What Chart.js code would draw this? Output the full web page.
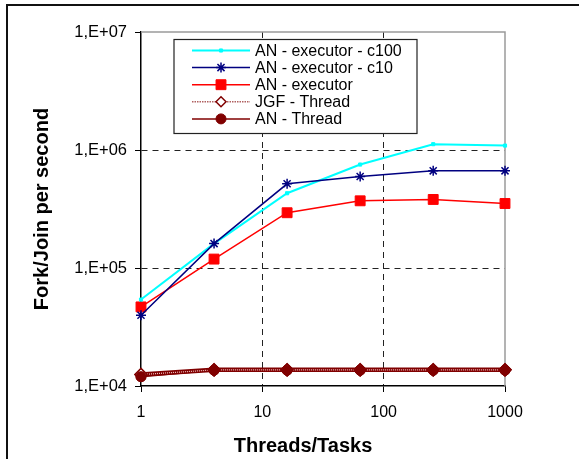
<!DOCTYPE html>
<html>
<head>
<meta charset="utf-8">
<script src="https://cdn.jsdelivr.net/npm/chart.js@4.4.0/dist/chart.umd.min.js"></script>
<style>
html, body { margin: 0; padding: 0; background: #fff; }
#wrap { position: relative; width: 579px; height: 459px; }
</style>
</head>
<body>
<div id="wrap"><canvas id="chart" width="579" height="459"></canvas></div>
<script>
const threads = [1, 4, 16, 64, 256, 1000];
const executorC100 = [54000, 161000, 430000, 753000, 1120000, 1090000];
const executorC10 = [39800, 161000, 517000, 596000, 666000, 666000];
const executorPlain = [46800, 119000, 294000, 371000, 381000, 352000];
const jgfThread = [12500, 13700, 13700, 13700, 13700, 13700];
const anThread = [12000, 13600, 13600, 13600, 13600, 13600];
const xTicks = [1, 10, 100, 1000];
const yTicks = [1e4, 1e5, 1e6, 1e7];

const FONT = '"Liberation Sans", Arial, sans-serif';
Chart.defaults.font.family = FONT;
Chart.defaults.color = '#000';

function points(values) {
    return threads.map((t, i) => ({ x: t, y: values[i] }));
}

function fmtY(v) {
    let e = Math.round(Math.log10(v));
    return '1,E+' + String(e).padStart(2, '0');
}

// only the inner decades get a dashed grid line
function innerGrid(edges) {
    return c => (c.tick && edges.includes(c.tick.value)) ? 'rgba(0,0,0,0)' : '#222';
}

// frame around the page + grey top/right edge of the plot area
const framePlugin = {
    id: 'frame',
    beforeDatasetsDraw(chart) {
        const ctx = chart.ctx;
        const a = chart.chartArea;
        ctx.save();
        ctx.strokeStyle = '#9a9a9a';
        ctx.lineWidth = 1.5;
        ctx.beginPath();
        ctx.moveTo(a.left, a.top);
        ctx.lineTo(a.right, a.top);
        ctx.lineTo(a.right, a.bottom);
        ctx.stroke();
        ctx.restore();
    },
    afterDraw(chart) {
        const ctx = chart.ctx;
        ctx.save();
        ctx.strokeStyle = '#111';
        ctx.lineWidth = 2;
        ctx.beginPath();
        ctx.moveTo(7, chart.height);
        ctx.lineTo(7, 5);
        ctx.lineTo(chart.width, 5);
        ctx.stroke();
        // x axis title, a bit left of the plot centre like the original
        ctx.font = 'bold 20px ' + FONT;
        ctx.textAlign = 'center';
        ctx.textBaseline = 'middle';
        ctx.fillStyle = '#000';
        ctx.fillText('Threads/Tasks', 303, 446);
        ctx.restore();
    }
};

// dotted light centre on the JGF line, then markers on top (Excel style)
const threadPlugin = {
    id: 'threadLines',
    afterDatasetsDraw(chart) {
        const ctx = chart.ctx;
        const jgf = chart.getDatasetMeta(3);
        const an = chart.getDatasetMeta(4);
        ctx.save();
        ctx.strokeStyle = 'rgba(255,215,215,0.9)';
        ctx.lineWidth = 1.2;
        ctx.setLineDash([1, 1]);
        ctx.beginPath();
        jgf.data.forEach((p, i) => i ? ctx.lineTo(p.x, p.y) : ctx.moveTo(p.x, p.y));
        ctx.stroke();
        ctx.restore();
        jgf.data.forEach(p => p.draw(ctx));
        an.data.forEach(p => p.draw(ctx));
    }
};

const legendPlugin = {
    id: 'boxLegend',
    afterDatasetsDraw(chart) {
        const ctx = chart.ctx;
        const a = chart.chartArea;
        const left = a.left + 33, top = a.top + 7.5, w = 243, h = 94;
        ctx.save();
        ctx.fillStyle = '#fff';
        ctx.fillRect(left, top, w, h);
        ctx.strokeStyle = '#222';
        ctx.lineWidth = 1.2;
        ctx.strokeRect(left, top, w, h);
        chart.data.datasets.forEach((ds, i) => {
            const y = top + 11 + i * 17.1;
            ctx.save();
            ctx.strokeStyle = ds.legendLineColor || ds.borderColor;
            ctx.lineWidth = ds.legendLineWidth || ds.borderWidth;
            ctx.setLineDash(ds.legendDash || []);
            ctx.beginPath();
            ctx.moveTo(left + 18, y);
            ctx.lineTo(left + 76, y);
            ctx.stroke();
            ctx.restore();
            ctx.fillStyle = ds.pointBackgroundColor;
            ctx.strokeStyle = ds.pointBorderColor;
            ctx.lineWidth = ds.pointBorderWidth;
            Chart.helpers.drawPoint(ctx, {
                pointStyle: ds.pointStyle,
                radius: ds.legendPointRadius || ds.pointRadius,
                borderWidth: ds.pointBorderWidth,
                rotation: 0
            }, left + 47, y);
            ctx.fillStyle = '#000';
            ctx.font = '16px ' + FONT;
            ctx.textAlign = 'left';
            ctx.textBaseline = 'middle';
            ctx.fillText(ds.label, left + 81, y + 1);
        });
        ctx.restore();
    }
};

new Chart(document.getElementById('chart'), {
    type: 'line',
    data: {
        datasets: [
            {
                label: 'AN - executor - c100',
                data: points(executorC100),
                borderColor: '#00FFFF',
                borderWidth: 2,
                pointStyle: 'rect',
                pointRadius: 2.2,
                pointBackgroundColor: '#00FFFF',
                pointBorderColor: '#00FFFF',
                pointBorderWidth: 1,
                order: 2
            },
            {
                label: 'AN - executor - c10',
                data: points(executorC10),
                borderColor: '#000080',
                borderWidth: 1.5,
                pointStyle: 'star',
                pointRadius: 5,
                pointBackgroundColor: '#000080',
                pointBorderColor: '#000080',
                pointBorderWidth: 1.5,
                order: 1
            },
            {
                label: 'AN - executor',
                data: points(executorPlain),
                borderColor: '#FF0000',
                borderWidth: 1.5,
                pointStyle: 'rect',
                pointRadius: 7,
                pointBackgroundColor: '#FF0000',
                pointBorderColor: '#FF0000',
                pointBorderWidth: 1,
                order: 3
            },
            {
                label: 'JGF - Thread',
                data: points(jgfThread),
                borderColor: '#800000',
                borderWidth: 4.5,
                legendLineColor: '#b06060',
                legendLineWidth: 1.5,
                legendDash: [1.5, 1],
                pointStyle: 'rectRot',
                pointRadius: 6,
                legendPointRadius: 5,
                pointBackgroundColor: '#fff',
                pointBorderColor: '#800000',
                pointBorderWidth: 1.5,
                order: 5
            },
            {
                label: 'AN - Thread',
                data: points(anThread),
                borderColor: '#800000',
                borderWidth: 1.5,
                pointStyle: 'circle',
                pointRadius: 5,
                pointBackgroundColor: '#800000',
                pointBorderColor: '#800000',
                pointBorderWidth: 1,
                order: 4
            }
        ]
    },
    options: {
        responsive: false,
        animation: false,
        clip: false,
        layout: { padding: { top: 32, right: 74, left: 0, bottom: 0 } },
        plugins: {
            legend: { display: false },
            tooltip: { enabled: false }
        },
        scales: {
            x: {
                type: 'logarithmic',
                min: 1,
                max: 1000,
                afterBuildTicks: s => { s.ticks = xTicks.map(v => ({ value: v })); },
                afterFit: s => { s.height = 73; },
                ticks: {
                    padding: 11,
                    font: { size: 16 },
                    color: '#000',
                    maxRotation: 0,
                    autoSkip: false,
                    callback: v => String(v)
                },
                grid: {
                    color: innerGrid([1, 1000]),
                    tickColor: '#000',
                    tickLength: 6,
                    lineWidth: 1
                },
                border: { color: '#000', width: 1.5, dash: [6, 5] }
            },
            y: {
                type: 'logarithmic',
                min: 1e4,
                max: 1e7,
                afterBuildTicks: s => { s.ticks = yTicks.map(v => ({ value: v })); },
                afterFit: s => { s.width = 141; },
                ticks: {
                    padding: 8,
                    font: { size: 16.5 },
                    color: '#000',
                    autoSkip: false,
                    callback: v => fmtY(v)
                },
                grid: {
                    color: innerGrid([1e4, 1e7]),
                    tickColor: '#000',
                    tickLength: 6,
                    lineWidth: 1
                },
                border: { color: '#000', width: 1.5, dash: [6, 5] },
                title: {
                    display: true,
                    text: 'Fork/Join per second',
                    font: { size: 20, weight: 'bold' },
                    color: '#000',
                    padding: { top: 30, bottom: 0 }
                }
            }
        }
    },
    plugins: [framePlugin, threadPlugin, legendPlugin]
});
</script>
</body>
</html>
